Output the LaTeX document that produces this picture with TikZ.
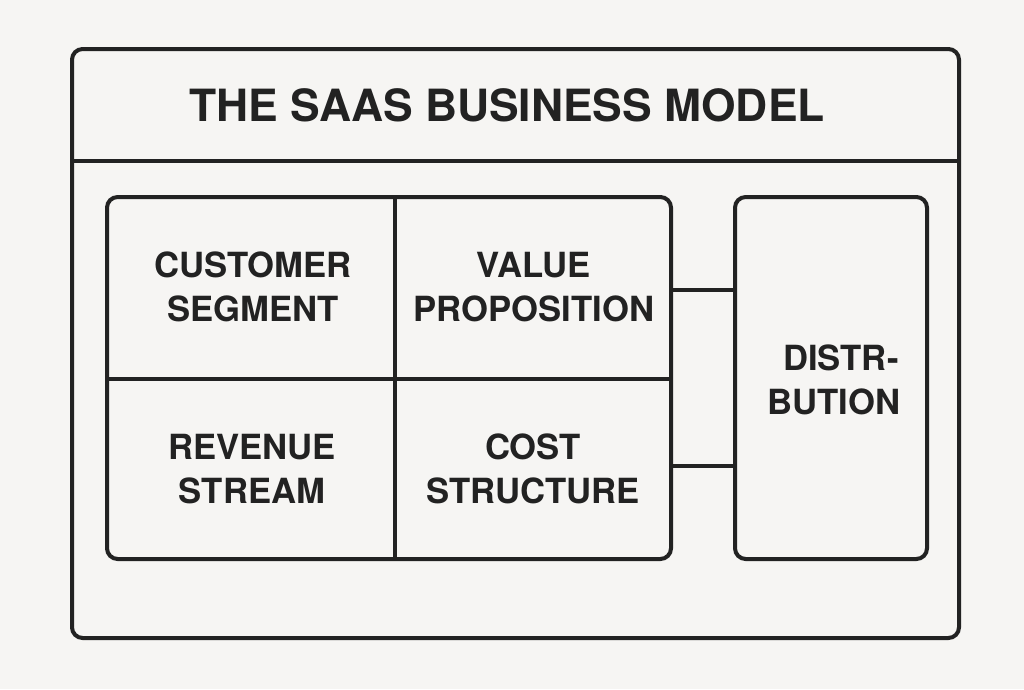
\documentclass[tikz,border=0pt]{standalone}
\usepackage{fontspec}
\setmainfont{TeX Gyre Heros}
\definecolor{bgc}{HTML}{F6F5F3}
\definecolor{ink}{HTML}{222222}
\tikzset{
  pane/.style={draw=ink,line width=3pt,rounded corners=8pt,rectangle,inner sep=0pt},
  rule/.style={draw=ink,line width=2.6pt},
  lab/.style={text=ink,font=\fontsize{26pt}{33pt}\selectfont\bfseries,align=center,inner sep=0pt},
  ttl/.style={text=ink,font=\fontsize{33.3pt}{38pt}\selectfont\bfseries,inner sep=0pt}
}
\begin{document}
\begin{tikzpicture}[x=0.75pt,y=-0.75pt]
\fill[bgc] (0,0) rectangle (1024,689);
\useasboundingbox (0,0) rectangle (1024,689);
\node[pane,minimum width=665.25pt,minimum height=441.75pt] (outer) at (515.5,343.5) {};
\node[pane,minimum width=423pt,minimum height=271.5pt] (grid) at (389,378) {};
\node[pane,minimum width=144pt,minimum height=271.5pt] (dist) at (831,378) {};
\coordinate (hy) at (0,161);
\coordinate (vx) at (395,0);
\coordinate (my) at (0,379);
\coordinate (c1) at (0,290);
\coordinate (c2) at (0,466);
\draw[rule] (outer.west |- hy) -- (outer.east |- hy);
\draw[rule] (vx |- grid.north) -- (vx |- grid.south);
\draw[rule] (grid.west |- my) -- (grid.east |- my);
\draw[rule] (grid.east |- c1) -- (dist.west |- c1);
\draw[rule] (grid.east |- c2) -- (dist.west |- c2);
\node[ttl] (title) at (507,105) {THE SAAS BUSINESS MODEL};
\node[lab] (cs) at (253,287) {CUSTOMER\\SEGMENT};
\node[lab] (vp) at (534,287) {VALUE\\PROPOSITION};
\node[lab] (rs) at (252,469) {REVENUE\\STREAM};
\node[lab] (cost) at (533,469) {COST\\STRUCTURE};
\node[lab] (distl) at (834,380) {\hspace*{10.5pt}DISTR-\\BUTION};
\end{tikzpicture}
\end{document}
